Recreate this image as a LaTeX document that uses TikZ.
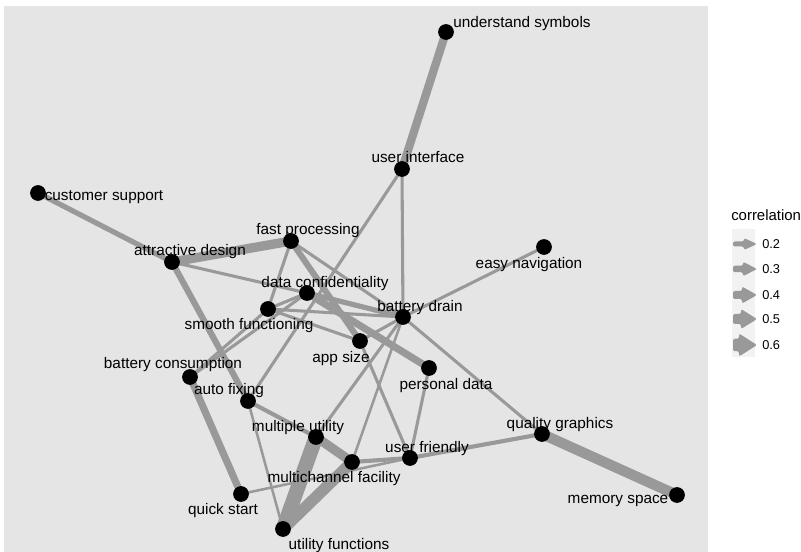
\documentclass[tikz,border=0pt]{standalone}
\usepackage{fontspec}
\setmainfont{Liberation Sans}
\usetikzlibrary{arrows.meta, backgrounds}
\definecolor{panelgray}{RGB}{229,229,229}
\definecolor{keygray}{RGB}{242,242,242}
\definecolor{edgegray}{RGB}{153,153,153}
\pgfdeclarelayer{panel}
\pgfsetlayers{panel,background,main}
\tikzset{
  dot/.style={circle, fill=black, inner sep=0pt, minimum size=11.8pt},
  lbl/.style={font=\fontsize{11.5}{13}\selectfont, inner sep=0pt, text height=8.2pt, text depth=0pt},
  edge/.style={draw=edgegray},
  legtxt/.style={font=\fontsize{9.6}{11}\selectfont, anchor=west, inner sep=0pt, text height=6.9pt, text depth=0pt},
}

\begin{document}
\begin{tikzpicture}[x=0.75pt, y=-0.75pt]
  \useasboundingbox (0,0) rectangle (801,552);
  \begin{pgfonlayer}{panel}
    \fill[panelgray] (4,6) rectangle (708,552);
  \end{pgfonlayer}

  % terms
  \node[dot] (us) at (446,32) {};
  \node[dot] (ui) at (402,169) {};
  \node[dot] (cs) at (38,193) {};
  \node[dot] (fp) at (291,241) {};
  \node[dot] (ad) at (172,262) {};
  \node[dot] (en) at (544,247) {};
  \node[dot] (dc) at (307,293) {};
  \node[dot] (sf) at (268,309) {};
  \node[dot] (bd) at (403,317) {};
  \node[dot] (apps) at (360,341) {};
  \node[dot] (pd) at (429,368) {};
  \node[dot] (bc) at (190,377) {};
  \node[dot] (af) at (248,401) {};
  \node[dot] (mu) at (316,437) {};
  \node[dot] (mf) at (352,462) {};
  \node[dot] (uf) at (410,458) {};
  \node[dot] (qg) at (542,434) {};
  \node[dot] (ms) at (677,495) {};
  \node[dot] (qs) at (241,494) {};
  \node[dot] (ut) at (283,529) {};

  % labels
  \node[lbl] (us-l) at (522,22) {understand symbols};
  \node[lbl] (ui-l) at (418,157) {user interface};
  \node[lbl] (cs-l) at (104,195) {customer support};
  \node[lbl] (fp-l) at (308,229) {fast processing};
  \node[lbl] (ad-l) at (190,250) {attractive design};
  \node[lbl] (en-l) at (529,263) {easy navigation};
  \node[lbl] (dc-l) at (325,282) {data confidentiality};
  \node[lbl] (sf-l) at (249,324) {smooth functioning};
  \node[lbl] (bd-l) at (420,306) {battery drain};
  \node[lbl] (apps-l) at (341,357) {app size};
  \node[lbl] (pd-l) at (446,384) {personal data};
  \node[lbl] (bc-l) at (173,363) {battery consumption};
  \node[lbl] (af-l) at (229,389) {auto fixing};
  \node[lbl] (mu-l) at (298,426) {multiple utility};
  \node[lbl] (mf-l) at (334,477) {multichannel facility};
  \node[lbl] (uf-l) at (427,447) {user friendly};
  \node[lbl] (qg-l) at (560,423) {quality graphics};
  \node[lbl] (ms-l) at (618,498) {memory space};
  \node[lbl] (qs-l) at (223,509) {quick start};
  \node[lbl] (ut-l) at (339,544) {utility functions};

  % correlations
  \begin{scope}[on background layer]
    \foreach \a/\b/\w in {us/ui/6.2, ui/bd/2.3, ui/af/2.3, cs/ad/3.9, ad/fp/7,
        ad/dc/2.3, ad/af/4.6, bc/qs/5.4, bc/sf/2.3, bc/dc/2.3, fp/sf/2.3,
        fp/apps/4.6, fp/bd/2.3, dc/bd/3.9, dc/pd/5.4, sf/dc/2.3, sf/bd/2.3,
        sf/apps/2.3, bd/en/2.3, bd/qg/2.3, bd/apps/2.3, bd/mu/2.3, bd/mf/1.9,
        apps/uf/2.3, pd/uf/2.3, mu/mf/7, mu/ut/11, mf/ut/8.6, mf/uf/3.1,
        qs/uf/1.9, uf/qg/3.1, qg/ms/7.8, af/mu/3.1, af/ut/1.9}
      \draw[edge, line width=\w pt] (\a.center) -- (\b.center);
  \end{scope}

  % legend
  \node[lbl, anchor=west, font=\fontsize{11.2}{13}\selectfont] (leg-t) at (731,215) {correlation};
  \fill[keygray] (732,229) rectangle (755,357);
  \foreach \v/\y/\s/\h/\hx in {0.2/244/5/12/744, 0.3/269/6.5/14.5/743, 0.4/295/8/17/742,
      0.5/319/10/20/741, 0.6/345/12.5/23/739} {
    \fill[edgegray, rounded corners=1.5pt] (733,\y-\s/2) -- (\hx,\y-\s/2) -- (\hx,\y-\h/2)
      -- (757,\y) -- (\hx,\y+\h/2) -- (\hx,\y+\s/2) -- (733,\y+\s/2) -- cycle;
    \node[legtxt] (leg-\v) at (762,\y) {\v};
  }
\end{tikzpicture}
\end{document}
